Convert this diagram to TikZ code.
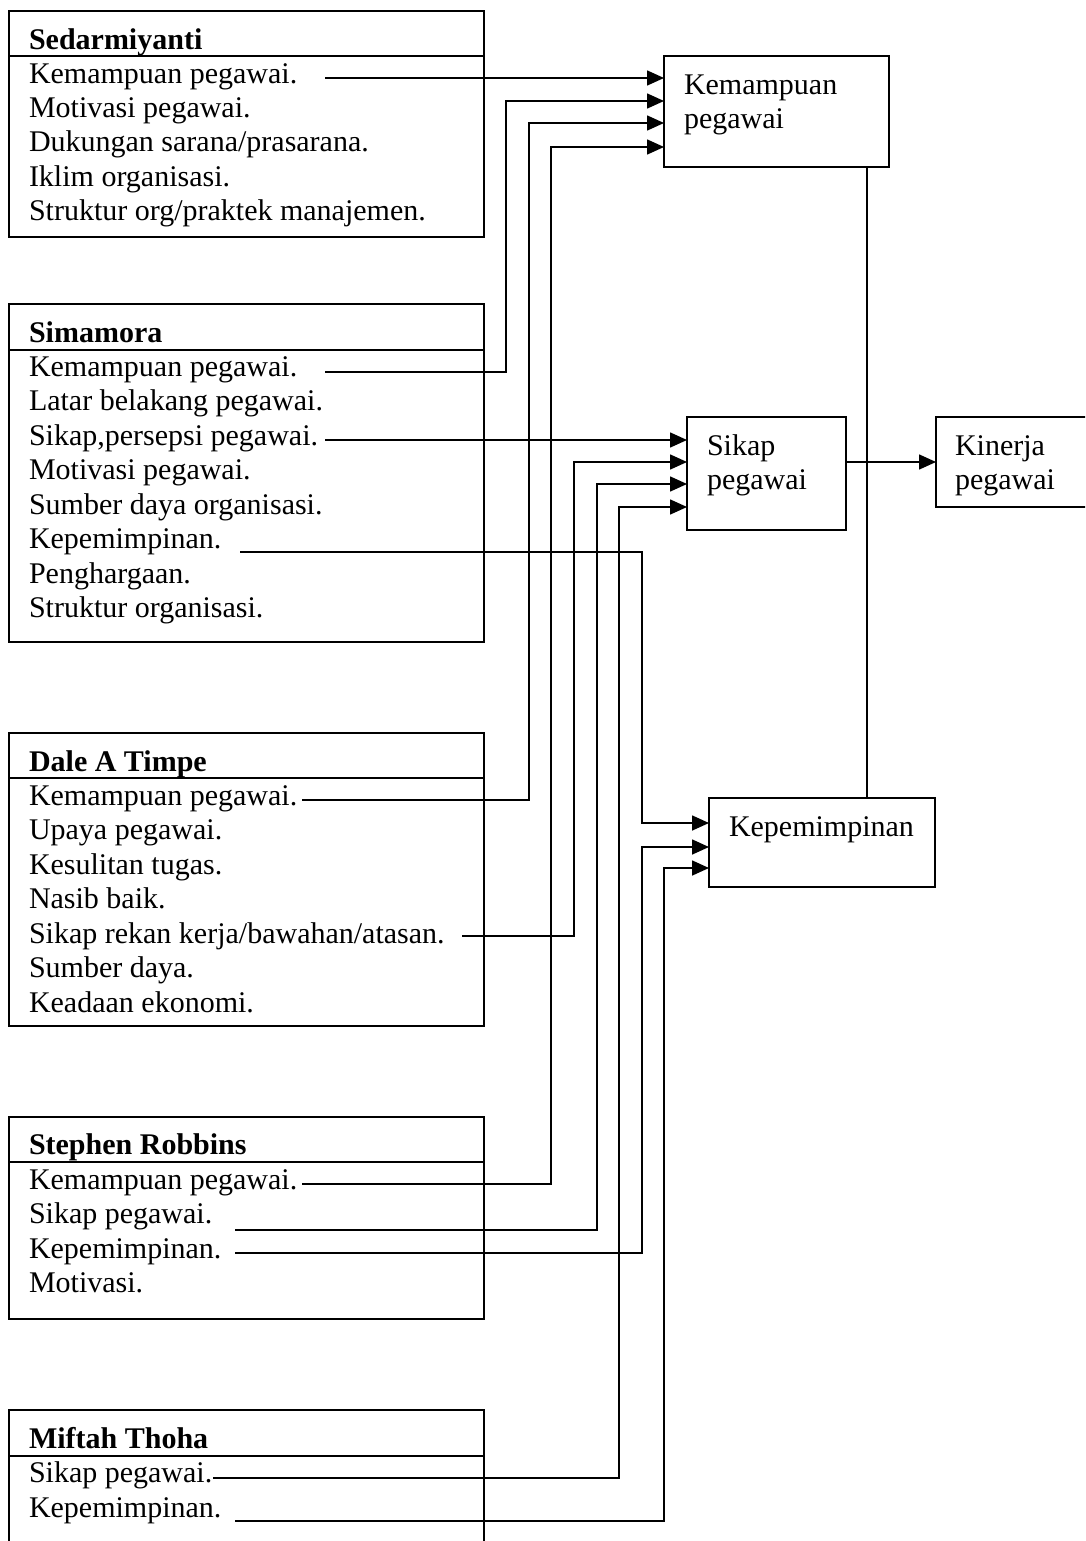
\documentclass[tikz,border=0pt]{standalone}
\usepackage{fontspec}
\setmainfont{Liberation Serif}
\usetikzlibrary{arrows.meta}
\begin{document}
\begin{tikzpicture}[x=1pt,y=-1pt,
  every node/.style={inner sep=0pt,outer sep=0pt},
  txt/.style={anchor=base west,font=\fontsize{30}{34}\selectfont},
  ttl/.style={anchor=base west,font=\fontsize{30}{34}\selectfont\bfseries},
  frame/.style={draw,line width=1.6pt,anchor=north west},
  conn/.style={line width=1.6pt},
  arr/.style={conn,-{Triangle[length=17pt,width=15pt]}}]
\fill[white] (0,0) rectangle (1085,1541);
\clip (0,0) rectangle (1085,1541);

% ---------- target boxes ----------
\node[frame,minimum width=225pt,minimum height=111pt] (kp) at (664,56) {};
\node[txt] (kpa) at (684,95) {Kemampuan};
\node[txt] (kpb) at (684,129) {pegawai};

\node[frame,minimum width=159pt,minimum height=113pt] (sk) at (687,417) {};
\node[txt] (ska) at (707,455) {Sikap};
\node[txt] (skb) at (707,489) {pegawai};

\node[frame,minimum width=200pt,minimum height=90pt] (kin) at (936,417) {};
\node[txt] (kina) at (955,455) {Kinerja};
\node[txt] (kinb) at (955,489) {pegawai};

\node[frame,minimum width=226pt,minimum height=89pt] (kep) at (709,798) {};
\node[txt] (kepa) at (729,836) {Kepemimpinan};

% ---------- Sedarmiyanti ----------
\node[frame,minimum width=475pt,minimum height=226pt] (s1) at (9,11) {};
\draw[conn] (s1.west |- 0,56) -- (s1.east |- 0,56);
\node[ttl] (s1t) at (29,50) {Sedarmiyanti};
\node[txt] (s1a) at (29,84) {Kemampuan pegawai.};
\node[txt] (s1b) at (29,118) {Motivasi pegawai.};
\node[txt] (s1c) at (29,152) {Dukungan sarana/prasarana.};
\node[txt] (s1d) at (29,186) {Iklim organisasi.};
\node[txt] (s1e) at (29,220) {Struktur org/praktek manajemen.};

% ---------- Simamora ----------
\node[frame,minimum width=475pt,minimum height=338pt] (s2) at (9,304) {};
\draw[conn] (s2.west |- 0,350) -- (s2.east |- 0,350);
\node[ttl] (s2t) at (29,342) {Simamora};
\node[txt] (s2a) at (29,376) {Kemampuan pegawai.};
\node[txt] (s2b) at (29,410.5) {Latar belakang pegawai.};
\node[txt] (s2c) at (29,445) {Sikap,persepsi pegawai.};
\node[txt] (s2d) at (29,479.5) {Motivasi pegawai.};
\node[txt] (s2e) at (29,514) {Sumber daya organisasi.};
\node[txt] (s2f) at (29,548.5) {Kepemimpinan.};
\node[txt] (s2g) at (29,583) {Penghargaan.};
\node[txt] (s2h) at (29,617.5) {Struktur organisasi.};

% ---------- Dale A Timpe ----------
\node[frame,minimum width=475pt,minimum height=293pt] (s3) at (9,733) {};
\draw[conn] (s3.west |- 0,778) -- (s3.east |- 0,778);
\node[ttl] (s3t) at (29,771) {Dale A Timpe};
\node[txt] (s3a) at (29,805) {Kemampuan pegawai.};
\node[txt] (s3b) at (29,839.5) {Upaya pegawai.};
\node[txt] (s3c) at (29,874) {Kesulitan tugas.};
\node[txt] (s3d) at (29,908.5) {Nasib baik.};
\node[txt] (s3e) at (29,943) {Sikap rekan kerja/bawahan/atasan.};
\node[txt] (s3f) at (29,977.5) {Sumber daya.};
\node[txt] (s3g) at (29,1012) {Keadaan ekonomi.};

% ---------- Stephen Robbins ----------
\node[frame,minimum width=475pt,minimum height=202pt] (s4) at (9,1117) {};
\draw[conn] (s4.west |- 0,1162) -- (s4.east |- 0,1162);
\node[ttl] (s4t) at (29,1154) {Stephen Robbins};
\node[txt] (s4a) at (29,1189) {Kemampuan pegawai.};
\node[txt] (s4b) at (29,1223.5) {Sikap pegawai.};
\node[txt] (s4c) at (29,1258) {Kepemimpinan.};
\node[txt] (s4d) at (29,1292.5) {Motivasi.};

% ---------- Miftah Thoha ----------
\node[frame,minimum width=475pt,minimum height=160pt] (s5) at (9,1410) {};
\draw[conn] (s5.west |- 0,1456) -- (s5.east |- 0,1456);
\node[ttl] (s5t) at (29,1448) {Miftah Thoha};
\node[txt] (s5a) at (29,1482) {Sikap pegawai.};
\node[txt] (s5b) at (29,1517) {Kepemimpinan.};

% ---------- connector start points ----------
\coordinate (c1) at (325,78);
\coordinate (c2) at (325,372);
\coordinate (c3) at (302,800);
\coordinate (c4) at (302,1184);
\coordinate (c5) at (325,440);
\coordinate (c6) at (462,936);
\coordinate (c7) at (235,1230);
\coordinate (c8) at (213,1478);
\coordinate (c9) at (240,552);
\coordinate (c10) at (235,1253);
\coordinate (c11) at (235,1521);

% to Kemampuan pegawai
\draw[arr] (c1) -- (c1 -| kp.west);
\draw[arr] (c2) -| (506,101) -- (kp.west |- 0,101);
\draw[arr] (c3) -| (529,123) -- (kp.west |- 0,123);
\draw[arr] (c4) -| (551,147) -- (kp.west |- 0,147);

% to Sikap pegawai
\draw[arr] (c5) -- (c5 -| sk.west);
\draw[arr] (c6) -| (574,462) -- (sk.west |- 0,462);
\draw[arr] (c7) -| (597,484) -- (sk.west |- 0,484);
\draw[arr] (c8) -| (619,507) -- (sk.west |- 0,507);

% to Kepemimpinan
\draw[arr] (c9) -| (642,823) -- (kep.west |- 0,823);
\draw[arr] (c10) -| (642,847) -- (kep.west |- 0,847);
\draw[arr] (c11) -| (664,868) -- (kep.west |- 0,868);

% outputs
\draw[arr] (sk.east |- 0,462) -- (kin.west |- 0,462);
\draw[conn] (kp.south -| 867,0) -- (kep.north -| 867,0);
\end{tikzpicture}
\end{document}
